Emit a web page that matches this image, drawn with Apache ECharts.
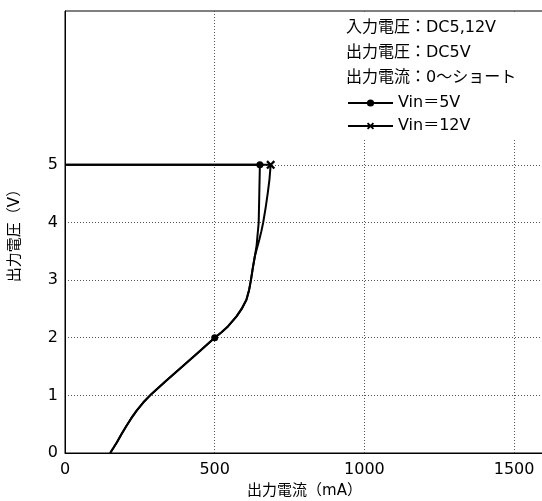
<!DOCTYPE html>
<html>
<head>
<meta charset="utf-8">
<script src="https://cdn.jsdelivr.net/npm/echarts@6/dist/echarts.min.js"></script>
<style>html,body{margin:0;padding:0;background:#fff;}#c{width:542px;height:501px;}</style>
</head>
<body>
<div id="c"></div>
<script>
// ---- data ----
const seriesNames = ['Vin＝5V', 'Vin＝12V'];
const infoLines = ['入力電圧：DC5,12V', '出力電圧：DC5V', '出力電流：0～ショート'];
const xTicks = [0, 500, 1000, 1500];
const yTicks = [0, 1, 2, 3, 4, 5];
// [current mA, voltage V]
const vin5 = [[0,5],[651,5],[649,4.5],[647,4],[640,3.6],[634,3.41],[627,3.2],[621,3],[615,2.83],[606,2.66],[590,2.5],[573,2.37],[545,2.2],[522,2.09],[500,2],[446,1.75],[392,1.5],[337,1.25],[290,1.03],[262,0.88],[240,0.74],[221,0.6],[204,0.46],[188,0.32],[174,0.19],[162,0.09],[151,0]];
const vin12 = [[0,5],[687,5],[683,4.75],[677,4.5],[670,4.25],[662,4],[656,3.85],[649,3.7],[641,3.55],[634,3.41],[627,3.2],[621,3],[615,2.83],[606,2.66],[590,2.5],[573,2.37],[545,2.2],[522,2.09],[500,2],[446,1.75],[392,1.5],[337,1.25],[290,1.03],[262,0.88],[240,0.74],[221,0.6],[204,0.46],[188,0.32],[174,0.19],[162,0.09],[151,0]];
const vin5Markers = [[651,5],[500,2]];
const vin12Markers = [[687,5]];

const FONT = "'DejaVu Sans', 'Noto Sans CJK JP', sans-serif";
const CROSS = 'path://M0,1.8 L1.8,0 L5,3.2 L8.2,0 L10,1.8 L6.8,5 L10,8.2 L8.2,10 L5,6.8 L1.8,10 L0,8.2 L3.2,5 Z';

function withMarkers(data, markers) {
  return data.map(p => {
    const isM = markers.some(m => m[0] === p[0] && m[1] === p[1]);
    return isM ? { value: p } : { value: p, symbol: 'none' };
  });
}

const X_MAX = 1600, Y_MAX = 7.67;
const dot = [1, 2];
const T = 'rgba(0,0,0,0)';
const G = '#555';
const chart = echarts.init(document.getElementById('c'), null, { renderer: 'canvas' });
chart.setOption({
  animation: false,
  backgroundColor: '#fff',
  textStyle: { fontFamily: FONT },
  grid: { left: 65, top: 11, width: 479, height: 442, show: true, borderColor: '#000', borderWidth: 1,
    containLabel: false, outerBoundsMode: 'none' },
  xAxis: {
    type: 'value', min: 0, max: X_MAX, interval: 500,
    name: '出力電流（mA）', nameLocation: 'middle', nameGap: 31,
    nameTextStyle: { color: '#000', fontSize: 15, fontFamily: FONT },
    axisLine: { show: true, lineStyle: { color: '#000', width: 1 } },
    axisTick: { show: false },
    axisLabel: { color: '#000', fontSize: 16, margin: 9, fontFamily: FONT,
      formatter: v => xTicks.indexOf(v) >= 0 ? String(v) : '' },
    splitLine: { show: true, lineStyle: { color: [T, G, G, G, T], type: dot, width: 1 } }
  },
  yAxis: {
    type: 'value', min: 0, max: Y_MAX, interval: 1,
    name: '出力電圧（V）', nameLocation: 'middle', nameGap: 42, nameRotate: 90,
    nameTextStyle: { color: '#000', fontSize: 15, fontFamily: FONT },
    axisLine: { show: true, lineStyle: { color: '#000', width: 1 } },
    axisTick: { show: false },
    axisLabel: { color: '#000', fontSize: 16, margin: 7, fontFamily: FONT,
      formatter: v => yTicks.indexOf(v) >= 0 ? String(v) : '' },
    splitLine: { show: true, lineStyle: { color: [T, G, G, G, G, G, T, T, T], type: dot, width: 1 } }
  },
  legend: {
    show: true, orient: 'vertical', left: 342, top: 90, itemGap: 7,
    itemWidth: 45, itemHeight: 9,
    textStyle: { color: '#000', fontSize: 16, fontFamily: FONT },
    data: seriesNames, z: 6
  },
  graphic: [
    { type: 'rect', z: 1, shape: { x: 340, y: 12, width: 210, height: 126 }, style: { fill: '#fff' } },
    ...infoLines.map((t, i) => ({ type: 'text', z: 6, left: 346, top: 20 + i * 25,
      style: { text: t, fill: '#000', font: '16px ' + FONT } }))
  ],
  series: [
    { name: seriesNames[1], type: 'line', data: withMarkers(vin12, vin12Markers),
      symbol: CROSS, symbolSize: 9, showAllSymbol: true, z: 3,
      lineStyle: { color: '#000', width: 2 }, itemStyle: { color: '#000' } },
    { name: seriesNames[0], type: 'line', data: withMarkers(vin5, vin5Markers),
      symbol: 'circle', symbolSize: 7, showAllSymbol: true, z: 4,
      lineStyle: { color: '#000', width: 2 }, itemStyle: { color: '#000' } }
  ]
});
</script>
</body>
</html>
